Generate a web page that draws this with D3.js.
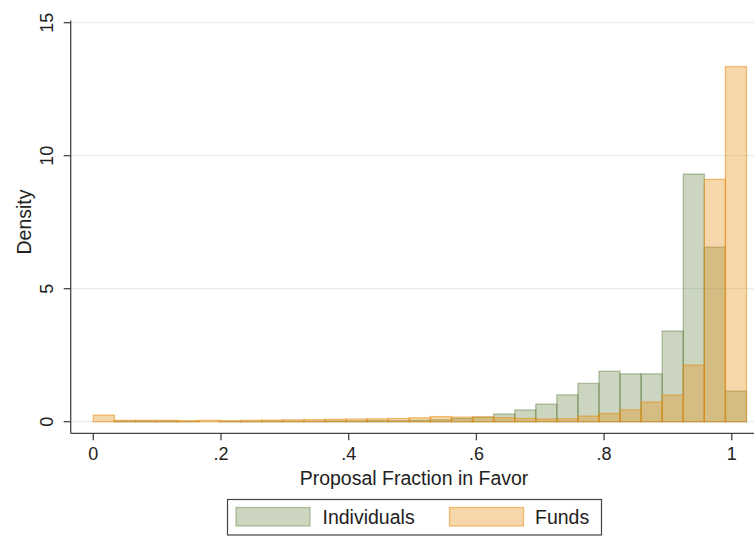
<html>

<head>
  <meta charset="UTF-8">
  <title>Proposal Fraction in Favor - histogram</title>
  <script src="https://cdn.jsdelivr.net/npm/d3@7"></script>
  <style>
    body { margin: 0; background: #fff; }
    text { font-family: "Liberation Sans", Arial, Helvetica, sans-serif; fill: #222; }
  </style>
</head>

<body>
  <div id="chart"></div>
  <script>
  //-----------------------------------------
  // data : 31 bins, start 0, width .033
  var binStart = 0;
  var binWidth = 0.033;
  var individuals = [0, 0.02, 0.02, 0.02, 0.01, 0, 0.01, 0.01, 0.02, 0.02,
    0.02, 0.03, 0.03, 0.04, 0.04, 0.05, 0.07, 0.12, 0.17, 0.29,
    0.44, 0.66, 1.01, 1.44, 1.90, 1.80, 1.80, 3.41, 9.31, 6.56, 1.15];
  var funds = [0.25, 0.05, 0.05, 0.05, 0.04, 0.05, 0.04, 0.05, 0.06, 0.07,
    0.08, 0.09, 0.10, 0.11, 0.12, 0.15, 0.19, 0.17, 0.18, 0.15,
    0.12, 0.10, 0.11, 0.21, 0.31, 0.45, 0.74, 1.00, 2.13, 9.11, 13.35];
  var xTicks = [0, 0.2, 0.4, 0.6, 0.8, 1];
  var xTickLabels = ["0", ".2", ".4", ".6", ".8", "1"];
  var yTicks = [0, 5, 10, 15];
  var legendLabels = ["Individuals", "Funds"];

  var W = 754, H = 539;
  var svg = d3.select("#chart").append("svg")
    .attr("width", W)
    .attr("height", H);

  var x = d3.scaleLinear().domain([0, 1]).range([93.3, 731.8]);
  var y = d3.scaleLinear().domain([0, 15]).range([421.7, 22.7]);

  var plotLeft = 70.7, plotBottom = 433.3, plotTop = 20.5, plotRight = W;

  // gridlines
  svg.append("g").selectAll("line")
    .data(yTicks).enter()
    .append("line")
    .attr("x1", plotLeft).attr("x2", plotRight)
    .attr("y1", function (d) { return y(d); })
    .attr("y2", function (d) { return y(d); })
    .attr("stroke", "#e6eef0")
    .attr("stroke-width", 1.2);

  // bars
  function drawBars(values, fill, fillOp, stroke) {
    svg.append("g").selectAll("rect")
      .data(values).enter()
      .append("rect")
      .attr("x", function (d, i) { return x(binStart + i * binWidth); })
      .attr("width", function (d, i) { return x(binStart + (i + 1) * binWidth) - x(binStart + i * binWidth); })
      .attr("y", function (d) { return y(d); })
      .attr("height", function (d) { return y(0) - y(d); })
      .attr("fill", fill)
      .attr("fill-opacity", fillOp)
      .attr("stroke", stroke)
      .attr("stroke-width", 1.3);
  }
  drawBars(individuals, "#52732d", 0.3, "rgba(82,115,45,0.4)");
  drawBars(funds, "#e68f16", 0.36, "rgba(230,143,22,0.55)");

  // y axis
  var yAxis = svg.append("g");
  yAxis.append("line")
    .attr("x1", plotLeft).attr("x2", plotLeft)
    .attr("y1", plotTop).attr("y2", plotBottom)
    .attr("stroke", "#444").attr("stroke-width", 1.3);
  yAxis.selectAll(".tick")
    .data(yTicks).enter()
    .append("line")
    .attr("x1", plotLeft - 7).attr("x2", plotLeft)
    .attr("y1", function (d) { return y(d); })
    .attr("y2", function (d) { return y(d); })
    .attr("stroke", "#444").attr("stroke-width", 1.3);
  yAxis.selectAll("text")
    .data(yTicks).enter()
    .append("text")
    .attr("transform", function (d) { return "translate(53," + y(d) + ") rotate(-90)"; })
    .attr("text-anchor", "middle")
    .style("font-size", "18px")
    .text(function (d) { return d; });
  svg.append("text")
    .attr("transform", "translate(31,222) rotate(-90)")
    .attr("text-anchor", "middle")
    .style("font-size", "19.5px")
    .text("Density");

  // x axis
  var xAxis = svg.append("g");
  xAxis.append("line")
    .attr("x1", plotLeft).attr("x2", plotRight)
    .attr("y1", plotBottom).attr("y2", plotBottom)
    .attr("stroke", "#444").attr("stroke-width", 1.3);
  xAxis.selectAll(".tick")
    .data(xTicks).enter()
    .append("line")
    .attr("x1", function (d) { return x(d); })
    .attr("x2", function (d) { return x(d); })
    .attr("y1", plotBottom).attr("y2", plotBottom + 7)
    .attr("stroke", "#444").attr("stroke-width", 1.3);
  xAxis.selectAll("text")
    .data(xTicks).enter()
    .append("text")
    .attr("x", function (d) { return x(d); })
    .attr("y", 460)
    .attr("text-anchor", "middle")
    .style("font-size", "18px")
    .text(function (d, i) { return xTickLabels[i]; });
  svg.append("text")
    .attr("x", 414).attr("y", 485)
    .attr("text-anchor", "middle")
    .style("font-size", "19.5px")
    .text("Proposal Fraction in Favor");

  // legend
  var legend = svg.append("g");
  legend.append("rect")
    .attr("x", 227.5).attr("y", 499.5)
    .attr("width", 374).attr("height", 35.5)
    .attr("fill", "#fff")
    .attr("stroke", "#444").attr("stroke-width", 1.2);
  var swatches = [
    { fill: "#52732d", op: 0.3, stroke: "rgba(82,115,45,0.4)", sx: 236, tx: 322.5 },
    { fill: "#e68f16", op: 0.36, stroke: "rgba(230,143,22,0.55)", sx: 449.5, tx: 535 }
  ];
  legend.selectAll(".sw")
    .data(swatches).enter()
    .append("rect")
    .attr("x", function (d) { return d.sx; })
    .attr("y", 507.5)
    .attr("width", 74).attr("height", 18.5)
    .attr("fill", function (d) { return d.fill; })
    .attr("fill-opacity", function (d) { return d.op; })
    .attr("stroke", function (d) { return d.stroke; })
    .attr("stroke-width", 1.3);
  legend.selectAll("text")
    .data(swatches).enter()
    .append("text")
    .attr("x", function (d) { return d.tx; })
    .attr("y", 523.5)
    .style("font-size", "19.5px")
    .text(function (d, i) { return legendLabels[i]; });
  </script>
</body>

</html>
